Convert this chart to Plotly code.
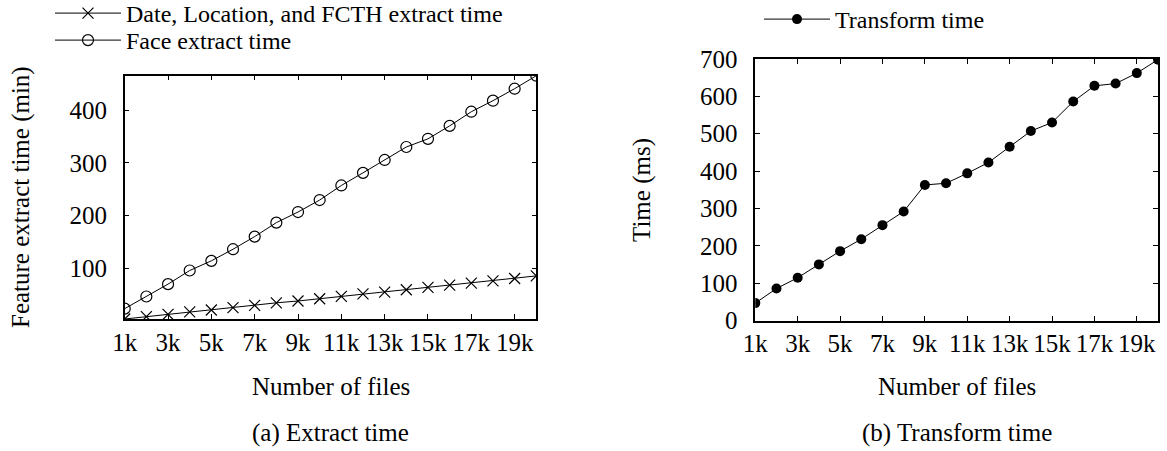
import plotly.graph_objects as go

# ---------------- data ----------------
n_files = [1000, 2000, 3000, 4000, 5000, 6000, 7000, 8000, 9000, 10000,
           11000, 12000, 13000, 14000, 15000, 16000, 17000, 18000, 19000, 20000]
x_tickvals = [1000, 3000, 5000, 7000, 9000, 11000, 13000, 15000, 17000, 19000]
x_ticktext = ["1k", "3k", "5k", "7k", "9k", "11k", "13k", "15k", "17k", "19k"]

date_loc_fcth = [4.4, 8.8, 13.2, 18.0, 21.5, 25.8, 30.3, 35.0, 38.5, 42.8,
                 47.2, 52.0, 55.3, 59.7, 64.2, 68.6, 72.3, 76.7, 81.0, 86.0]
face_extract = [24.0, 47.0, 70.4, 96.2, 114.5, 136.5, 160.4, 186.8, 206.9, 229.6,
                257.2, 281.1, 305.5, 330.0, 345.5, 370.0, 396.8, 417.7, 440.4, 465.0]
left_yticks = [100, 200, 300, 400]

transform_time = [47.0, 86.0, 115.0, 150.5, 186.0, 218.0, 255.5, 292.0, 363.0, 367.5,
                  394.0, 423.0, 465.0, 507.0, 530.0, 586.0, 628.0, 634.0, 662.0, 698.0]
right_yticks = [0, 100, 200, 300, 400, 500, 600, 700]
right_yrange = [0, 700]

W, H = 1167, 451
FONT = "Liberation Serif"
FS = 25
LFS = 24

fig = go.Figure()

fig.add_trace(go.Scatter(
    x=n_files, y=date_loc_fcth, mode="lines+markers",
    name="Date, Location, and FCTH extract time",
    line=dict(color="black", width=1),
    marker=dict(symbol="x-thin-open", size=11, line=dict(color="black", width=1.2)),
    xaxis="x", yaxis="y", legend="legend"))
fig.add_trace(go.Scatter(
    x=n_files, y=face_extract, mode="lines+markers",
    name="Face extract time",
    line=dict(color="black", width=1),
    marker=dict(symbol="circle-open", size=11, color="black", line=dict(color="black", width=1.2)),
    xaxis="x", yaxis="y", legend="legend3"))
fig.add_trace(go.Scatter(
    x=n_files, y=transform_time, mode="lines+markers",
    name="Transform time",
    line=dict(color="black", width=1),
    marker=dict(symbol="circle", size=10, color="black"),
    xaxis="x2", yaxis="y2", legend="legend2"))

def px_x(p):
    return p / W

def px_y(p):
    return 1 - p / H

axis_common = dict(
    showline=True, linecolor="black", linewidth=1.5, mirror="ticks",
    ticks="inside", ticklen=5, tickwidth=1, tickcolor="black",
    showgrid=False, zeroline=False,
    tickfont=dict(family=FONT, size=FS, color="black"),
)

left_all = date_loc_fcth + face_extract
leg_common = dict(xanchor="left", yanchor="top", font=dict(family=FONT, size=LFS),
                  itemwidth=66, bgcolor="rgba(0,0,0,0)")
fig.update_layout(
    width=W, height=H,
    margin=dict(l=0, r=0, t=0, b=0, autoexpand=False),
    paper_bgcolor="white", plot_bgcolor="white",
    font=dict(family=FONT, size=FS, color="black"),
    xaxis=dict(domain=[px_x(124.7), px_x(536.3)], range=[n_files[0], n_files[-1]],
               tickvals=x_tickvals, ticktext=x_ticktext, anchor="y", **axis_common),
    yaxis=dict(domain=[px_y(319), px_y(75.7)], range=[min(left_all), max(left_all)],
               tickvals=left_yticks, anchor="x", ticklabelstandoff=11, **axis_common),
    xaxis2=dict(domain=[px_x(755.3), px_x(1158)], range=[n_files[0], n_files[-1]],
                tickvals=x_tickvals, ticktext=x_ticktext, anchor="y2", **axis_common),
    yaxis2=dict(domain=[px_y(320.7), px_y(58.9)], range=right_yrange,
                tickvals=right_yticks, anchor="x2", ticklabelstandoff=11, **axis_common),
    legend=dict(x=px_x(50), y=px_y(-9), **leg_common),
    legend3=dict(x=px_x(50), y=px_y(18), **leg_common),
    legend2=dict(x=px_x(759), y=px_y(-3), **leg_common),
    showlegend=True,
)

annots = [
    dict(text="Feature extract time (min)", x=px_x(21), y=px_y(197), textangle=-90),
    dict(text="Time (ms)", x=px_x(642), y=px_y(190), textangle=-90),
    dict(text="Number of files", x=px_x(330.5), y=px_y(386)),
    dict(text="Number of files", x=px_x(956.7), y=px_y(386)),
    dict(text="(a) Extract time", x=px_x(330.5), y=px_y(433)),
    dict(text="(b) Transform time", x=px_x(956.7), y=px_y(433)),
]
for a in annots:
    fig.add_annotation(xref="paper", yref="paper", showarrow=False,
                       xanchor="center", yanchor="middle",
                       font=dict(family=FONT, size=FS, color="black"), **a)

fig.write_html("out.html")
